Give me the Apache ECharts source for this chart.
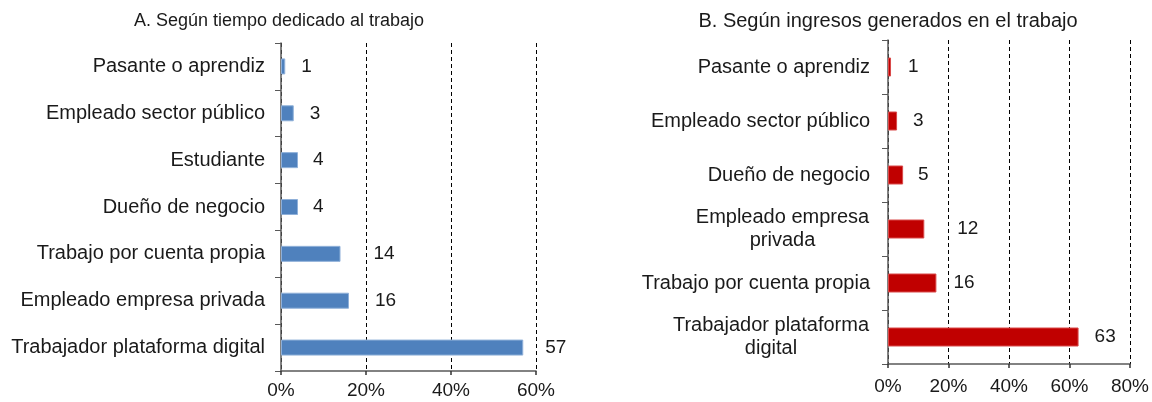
<!DOCTYPE html>
<html>
<head>
    <meta charset="utf-8">
    <title>Tipo de trabajo</title>
    <script src="https://cdn.jsdelivr.net/npm/echarts@6/dist/echarts.min.js"></script>
    <style>
        html, body { margin: 0; padding: 0; background: #fff; }
        #chart { width: 1152px; height: 402px; }
    </style>
</head>
<body>
<div id="chart"></div>
<script type="text/javascript">
    // datos del panel A (tiempo dedicado)
    var catsA = ['Pasante o aprendiz', 'Empleado sector público', 'Estudiante', 'Dueño de negocio',
        'Trabajo por cuenta propia', 'Empleado empresa privada', 'Trabajador plataforma digital'];
    var valsA = [1, 3, 4, 4, 14, 16, 57];
    var ticksA = [0, 20, 40, 60];

    // datos del panel B (ingresos generados)
    var catsB = ['Pasante o aprendiz', 'Empleado sector público', 'Dueño de negocio',
        'Empleado empresa\nprivada', 'Trabajo por cuenta propia', 'Trabajador plataforma\ndigital'];
    var valsB = [1, 3, 5, 12, 16, 63];
    var ticksB = [0, 20, 40, 60, 80];

    // separacion (px) de las etiquetas de valor, como en el original
    var gapA = [16, 16, 15, 15, 33, 26, 22];
    var gapB = [17, 16, 15, 33, 17, 16];

    var FONT = '"Liberation Sans", Arial, sans-serif';
    var TXT = '#1a1a1a';
    var AXIS = '#595959';
    var FS = 19;      // ticks y valores
    var FS_CAT = 20;  // categorias

    // etiquetas de dos lineas: lineas centradas dentro del bloque
    var ctx = document.createElement('canvas').getContext('2d');
    ctx.font = FS_CAT + 'px "Liberation Sans"';
    var richB = {};
    catsB.forEach(function (c, i) {
        var lines = c.split('\n');
        if (lines.length > 1) {
            var w = Math.max.apply(null, lines.map(function (l) { return ctx.measureText(l).width; }));
            richB['c' + i] = {width: Math.ceil(w) + 1, align: 'center', fontSize: FS_CAT, fontFamily: FONT, color: TXT, lineHeight: 23};
        }
    });

    function xAxisFor(ticks, grid, margin) {
        return {
            type: 'value', gridIndex: grid,
            min: ticks[0], max: ticks[ticks.length - 1], interval: ticks[1] - ticks[0],
            axisLine: {show: true, lineStyle: {color: AXIS, width: 1.5}},
            axisTick: {show: true, length: 4, lineStyle: {color: '#333', width: 1.5}},
            axisLabel: {formatter: '{value}%', fontSize: FS, fontFamily: FONT, color: TXT, margin: margin},
            splitLine: {show: true, lineStyle: {color: '#000', type: [4, 3], width: 1}}
        };
    }

    function yAxisFor(cats, grid, margin, rich) {
        return {
            type: 'category', gridIndex: grid, data: cats, inverse: true,
            axisLine: {show: true, lineStyle: {color: AXIS, width: 1.5}},
            axisTick: {show: true, length: 6, lineStyle: {color: AXIS}},
            axisLabel: {
                fontSize: FS_CAT, fontFamily: FONT, color: TXT, margin: margin, lineHeight: 23,
                rich: rich || {},
                formatter: function (v, i) {
                    if (rich && rich['c' + i]) {
                        return v.split('\n').map(function (l) { return '{c' + i + '|' + l + '}'; }).join('\n');
                    }
                    return v;
                }
            }
        };
    }

    function barData(vals, gaps) {
        return vals.map(function (v, i) {
            return {value: v, label: {distance: gaps[i]}};
        });
    }

    var myChart = echarts.init(document.getElementById('chart'));
    myChart.setOption({
        animation: false,
        backgroundColor: '#fff',
        title: [
            {text: 'A. Según tiempo dedicado al trabajo', left: 274, top: 7, textAlign: 'center',
                textStyle: {fontSize: 18, fontWeight: 'normal', fontFamily: FONT, color: TXT}},
            {text: 'B. Según ingresos generados en el trabajo', left: 883, top: 6, textAlign: 'center',
                textStyle: {fontSize: 20, fontWeight: 'normal', fontFamily: FONT, color: TXT}}
        ],
        grid: [
            {left: 281, top: 43, width: 255, height: 328},
            {left: 888, top: 40, width: 242, height: 324}
        ],
        xAxis: [xAxisFor(ticksA, 0, 10), xAxisFor(ticksB, 1, 13)],
        yAxis: [yAxisFor(catsA, 0, 16), yAxisFor(catsB, 1, 18, richB)],
        series: [
            {
                type: 'bar', xAxisIndex: 0, yAxisIndex: 0, barWidth: 16,
                data: barData(valsA, gapA),
                itemStyle: {color: '#4F81BD', borderColor: '#8fb0d9', borderWidth: 1},
                label: {show: true, position: 'right', fontSize: FS, fontFamily: FONT, color: TXT}
            },
            {
                type: 'bar', xAxisIndex: 1, yAxisIndex: 1, barWidth: 19,
                data: barData(valsB, gapB),
                itemStyle: {color: '#C00000', borderColor: '#d94a4a', borderWidth: 1},
                label: {show: true, position: 'right', fontSize: FS, fontFamily: FONT, color: TXT}
            }
        ]
    });
</script>
</body>
</html>
